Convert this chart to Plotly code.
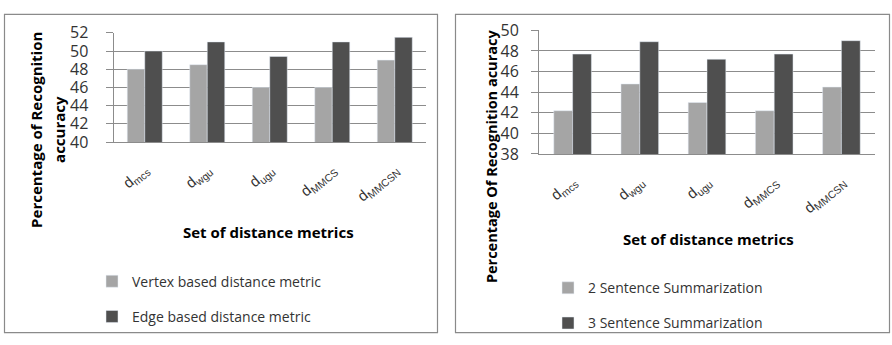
import plotly.graph_objects as go

# Distance metrics: every label is "d" with a subscript
metric_subs = ["mcs", "wgu", "ugu", "MMCS", "MMCSN"]
metrics = ["d<sub>" + s + "</sub>" for s in metric_subs]

# Left panel: vertex vs edge based distance metric
vertex_based = [48.0, 48.5, 46.0, 46.0, 49.0]
edge_based = [50.0, 51.0, 49.4, 51.0, 51.5]

# Right panel: 2 vs 3 sentence summarization
two_sentence = [42.2, 44.8, 43.0, 42.2, 44.5]
three_sentence = [47.7, 48.9, 47.2, 47.7, 49.0]

W, H = 892, 345
LIGHT = "#a5a5a5"
DARK = "#4f4f4f"
GRID = "#8c8c8c"
TXT = "#333333"
FONT = "Open Sans, Liberation Sans, sans-serif"
LABEL_FONT = "Liberation Sans"


def px(x):
    return x / W


def py(y):
    return 1 - y / H


fig = go.Figure()

fig.add_trace(go.Bar(x=metrics, y=vertex_based, name="Vertex based distance metric",
                     marker_color=LIGHT, xaxis="x", yaxis="y",
                     legend="legend", legendgroup="a"))
fig.add_trace(go.Bar(x=metrics, y=edge_based, name="Edge based distance metric",
                     marker_color=DARK, xaxis="x", yaxis="y",
                     legend="legend", legendgroup="b"))
fig.add_trace(go.Bar(x=metrics, y=two_sentence, name="2 Sentence Summarization",
                     marker_color=LIGHT, xaxis="x2", yaxis="y2",
                     legend="legend2", legendgroup="c"))
fig.add_trace(go.Bar(x=metrics, y=three_sentence, name="3 Sentence Summarization",
                     marker_color=DARK, xaxis="x2", yaxis="y2",
                     legend="legend2", legendgroup="d"))

xcommon = dict(type="category", showgrid=False, showline=True, linecolor=GRID,
               linewidth=1, ticks="", tickangle=-40, ticklabelstandoff=12,
               tickfont=dict(family=LABEL_FONT, size=15, color=TXT))
ycommon = dict(showgrid=True, gridcolor=GRID, gridwidth=1, showline=True,
               linecolor=GRID, linewidth=1, ticks="outside", ticklen=7,
               tickcolor=GRID, dtick=2, zeroline=False,
               tickfont=dict(family=FONT, size=16, color=TXT))

legend_common = dict(font=dict(family=FONT, size=14, color=TXT),
                     bgcolor="rgba(0,0,0,0)", traceorder="grouped",
                     tracegroupgap=14, xanchor="left", yanchor="top",
                     itemwidth=30)

# Plot-area extents, in pixels
LEFT_DOM = (113.5, 426)
RIGHT_DOM = (539, 875)
LEFT_BOTTOM, RIGHT_BOTTOM = 140, 152.7

annotations = [
    dict(text="<b>Percentage of Recognition</b>", xref="paper", yref="paper",
         x=px(36), y=py(127), xanchor="center", yanchor="middle", textangle=-90,
         showarrow=False, font=dict(family=FONT, size=15, color="black")),
    dict(text="<b>accuracy</b>", xref="paper", yref="paper",
         x=px(59), y=py(127), xanchor="center", yanchor="middle", textangle=-90,
         showarrow=False, font=dict(family=FONT, size=15, color="black")),
    dict(text="<b>Set of distance metrics</b>", xref="paper", yref="paper",
         x=px(268), y=py(236), xanchor="center", yanchor="middle", showarrow=False,
         font=dict(family=FONT, size=15, color="black")),
    dict(text="<b>Percentage Of Recognition acuracy</b>", xref="paper", yref="paper",
         x=px(491), y=py(155), xanchor="center", yanchor="middle", textangle=-90,
         showarrow=False, font=dict(family=FONT, size=14.5, color="black")),
    dict(text="<b>Set of distance metrics</b>", xref="paper", yref="paper",
         x=px(708), y=py(243), xanchor="center", yanchor="middle", showarrow=False,
         font=dict(family=FONT, size=15, color="black")),
]

shapes = [
    dict(type="rect", xref="paper", yref="paper",
         x0=px(4.5), x1=px(437.5), y0=py(343.5), y1=py(3.5),
         line=dict(color="#8a8a8a", width=1.2)),
    dict(type="rect", xref="paper", yref="paper",
         x0=px(455.5), x1=px(889.5), y0=py(343.5), y1=py(3.5),
         line=dict(color="#8a8a8a", width=1.2)),
]

fig.update_layout(
    width=W, height=H,
    margin=dict(l=0, r=0, t=0, b=0),
    paper_bgcolor="white", plot_bgcolor="white",
    barmode="group", bargap=0.44, bargroupgap=0,
    showlegend=True,
    xaxis=dict(domain=[px(LEFT_DOM[0]), px(LEFT_DOM[1])], anchor="y", **xcommon),
    yaxis=dict(domain=[py(LEFT_BOTTOM), py(23.3)], range=[40, 52], anchor="x",
               ticklabelstandoff=14, **ycommon),
    xaxis2=dict(domain=[px(RIGHT_DOM[0]), px(RIGHT_DOM[1])], anchor="y2", **xcommon),
    yaxis2=dict(domain=[py(RIGHT_BOTTOM), py(20.7)], range=[38, 50], anchor="x2",
                ticklabelstandoff=9, **ycommon),
    legend=dict(x=px(92), y=py(272), **legend_common),
    legend2=dict(x=px(548), y=py(279), **legend_common),
    shapes=shapes,
    annotations=annotations,
)

fig.write_html("out.html")
